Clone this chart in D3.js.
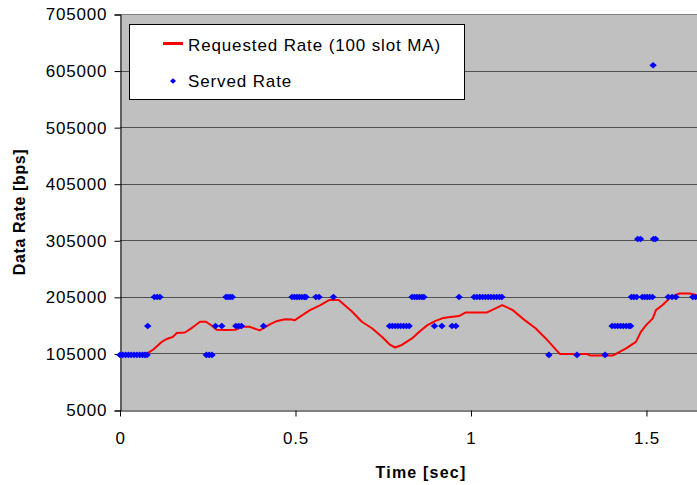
<!DOCTYPE html>
<html>
<head>
<meta charset="utf-8">
<script src="https://cdn.jsdelivr.net/npm/d3@7"></script>
<style>
  body { margin: 0; background: #fff; }
  text { font-family: "Liberation Sans", Arial, sans-serif; fill: #000; }
</style>
</head>
<body>
<svg id="chart" width="697" height="485"></svg>
<script>

// requested rate, 100 slot moving average (time in sec, rate in bps)
var reqTime = [0.000, 0.040, 0.075, 0.080, 0.095, 0.109, 0.120, 0.135, 0.150, 0.162,
               0.185, 0.200, 0.213, 0.228, 0.245, 0.262, 0.275, 0.300, 0.330, 0.350,
               0.370, 0.390, 0.399, 0.427, 0.446, 0.470, 0.490, 0.497, 0.540, 0.571,
               0.597, 0.623, 0.661, 0.689, 0.718, 0.746, 0.770, 0.784, 0.803, 0.832,
               0.852, 0.876, 0.899, 0.918, 0.935, 0.966, 0.985, 1.046, 1.061, 1.089,
               1.118, 1.156, 1.184, 1.213, 1.251, 1.254, 1.330, 1.340, 1.404, 1.413,
               1.442, 1.470, 1.484, 1.499, 1.518, 1.527, 1.546, 1.570, 1.594, 1.624, 1.643];
var reqRate = [103000, 103500, 104000, 106000, 112000, 120000, 126000, 131000, 134000, 141000,
               142000, 148000, 154000, 161000, 161000, 154000, 147000, 146500, 147000, 152000,
               152000, 147500, 146000, 156500, 162000, 165500, 165000, 163500, 181000, 190500,
               199500, 199500, 179000, 161000, 149500, 134500, 120000, 115500, 120000, 131500,
               143000, 155000, 162500, 167000, 169000, 171000, 177500, 177500, 182000, 190500,
               182000, 162500, 149500, 131500, 105500, 104000, 104000, 101500, 101500, 104000,
               114000, 125500, 143000, 155000, 167000, 181500, 190500, 205000, 211000, 211000, 208000];

// served rate samples, grouped by the served level (bps)
var served102400 = [0.000, 0.008, 0.016, 0.024, 0.032, 0.040, 0.048, 0.056, 0.064, 0.071, 0.077,
                    0.246, 0.254, 0.262, 1.222, 1.302, 1.382];
var served153600 = [0.079, 0.272, 0.290, 0.330, 0.338, 0.346, 0.409,
                    0.768, 0.776, 0.784, 0.792, 0.800, 0.808, 0.816, 0.824,
                    0.896, 0.917, 0.946, 0.957,
                    1.402, 1.410, 1.418, 1.426, 1.434, 1.442, 1.450, 1.455];
var served204800 = [0.098, 0.106, 0.114, 0.302, 0.308, 0.314, 0.320,
                    0.490, 0.497, 0.504, 0.511, 0.518, 0.525, 0.530, 0.558, 0.567, 0.608,
                    0.832, 0.839, 0.846, 0.853, 0.860, 0.866, 0.966,
                    1.009, 1.017, 1.025, 1.033, 1.041, 1.049, 1.057, 1.065, 1.073, 1.081, 1.088,
                    1.457, 1.464, 1.472, 1.488, 1.495, 1.502, 1.509, 1.517,
                    1.562, 1.573, 1.584, 1.632, 1.640];
var served307200 = [1.475, 1.483, 1.520, 1.526];
var served614400 = [1.519];

var yTicks = [5000, 105000, 205000, 305000, 405000, 505000, 605000, 705000];
var xTicks = [0, 0.5, 1, 1.5];
var xTickLabels = ["0", "0.5", "1", "1.5"];

var legendLabels = ["Requested Rate (100 slot MA)", "Served Rate"];


var plot = {left: 120, top: 14, right: 697, bottom: 410};

var x = d3.scaleLinear()
  .domain([0, 1.644])
  .range([plot.left, plot.right]);

var y = d3.scaleLinear()
  .domain([5000, 705000])
  .range([plot.bottom, plot.top]);

var svg = d3.select("#chart");

// grey plot area
svg.append("rect")
  .attr("x", plot.left)
  .attr("y", plot.top)
  .attr("width", plot.right - plot.left)
  .attr("height", plot.bottom - plot.top)
  .attr("fill", "#c0c0c0");

// horizontal gridlines (top one is the plot border)
svg.append("g")
  .selectAll("line")
  .data(yTicks.filter(d => d > 5000))
  .enter()
  .append("line")
  .attr("x1", plot.left)
  .attr("x2", plot.right)
  .attr("y1", d => Math.round(y(d)) + 0.5)
  .attr("y2", d => Math.round(y(d)) + 0.5)
  .attr("stroke", d => d == 705000 ? "#808080" : "#505050")
  .attr("stroke-width", 1);

// y axis
var yAxis = d3.axisLeft(y)
  .tickValues(yTicks)
  .tickSize(6)
  .tickPadding(8)
  .tickFormat(d3.format("d"));

var gy = svg.append("g")
  .attr("transform", "translate(" + (plot.left + 0.5) + ",0.5)")
  .call(yAxis);
gy.select(".domain").attr("stroke", "#000");
gy.selectAll(".tick line").attr("stroke", "#000");
gy.selectAll(".tick text")
  .attr("font-size", 17)
  .attr("letter-spacing", 0.8)
  .attr("dx", 0.8)
  .attr("font-family", "Liberation Sans, Arial, sans-serif");

// x axis
var xAxis = d3.axisBottom(x)
  .tickValues(xTicks)
  .tickSize(6)
  .tickSizeOuter(0)
  .tickPadding(15)
  .tickFormat((d, i) => xTickLabels[i]);

var gx = svg.append("g")
  .attr("transform", "translate(0," + (plot.bottom + 0.5) + ")")
  .call(xAxis);
gx.select(".domain").attr("stroke", "#000");
gx.selectAll(".tick line").attr("stroke", "#000");
gx.selectAll(".tick text")
  .attr("font-size", 17)
  .attr("letter-spacing", 0.8)
  .attr("font-family", "Liberation Sans, Arial, sans-serif");

// axis titles
svg.append("text")
  .attr("transform", "translate(25,212) rotate(-90)")
  .attr("text-anchor", "middle")
  .attr("font-size", 16)
  .attr("font-weight", "bold")
  .attr("letter-spacing", 0.6)
  .text("Data Rate [bps]");

svg.append("text")
  .attr("x", 421)
  .attr("y", 478)
  .attr("text-anchor", "middle")
  .attr("font-size", 16)
  .attr("font-weight", "bold")
  .attr("letter-spacing", 1.2)
  .text("Time [sec]");

// requested rate line
var reqData = reqTime.map((t, i) => ({t: t, v: reqRate[i]}));

var line = d3.line()
  .x(d => x(d.t))
  .y(d => y(d.v));

svg.append("path")
  .datum(reqData)
  .attr("d", line)
  .attr("fill", "none")
  .attr("stroke", "#ff0000")
  .attr("stroke-width", 2)
  .attr("stroke-linejoin", "round");

// served rate diamonds
var servedData = []
  .concat(served102400.map(t => ({t: t, v: 102400})))
  .concat(served153600.map(t => ({t: t, v: 153600})))
  .concat(served204800.map(t => ({t: t, v: 204800})))
  .concat(served307200.map(t => ({t: t, v: 307200})))
  .concat(served614400.map(t => ({t: t, v: 614400})));

var diamond = "M0,-3.3L3.7,0L0,3.3L-3.7,0Z";

svg.append("g")
  .selectAll("path")
  .data(servedData)
  .enter()
  .append("path")
  .attr("d", diamond)
  .attr("transform", d => "translate(" + x(d.t) + "," + y(d.v) + ")")
  .attr("fill", "#0000ff");

// legend
var legend = svg.append("g");

legend.append("rect")
  .attr("x", 129.5)
  .attr("y", 24.5)
  .attr("width", 335)
  .attr("height", 75)
  .attr("fill", "#fff")
  .attr("stroke", "#000");

legend.append("line")
  .attr("x1", 163)
  .attr("x2", 183)
  .attr("y1", 43.5)
  .attr("y2", 43.5)
  .attr("stroke", "#ff0000")
  .attr("stroke-width", 3);

legend.append("path")
  .attr("d", "M0,-2.7L3,0L0,2.7L-3,0Z")
  .attr("transform", "translate(173,81)")
  .attr("fill", "#0000ff");

legend.selectAll("text")
  .data(legendLabels)
  .enter()
  .append("text")
  .attr("x", 188)
  .attr("y", (d, i) => i == 0 ? 51 : 87)
  .attr("font-size", 17)
  .attr("letter-spacing", 0.87)
  .text(d => d);

</script>
</body>
</html>
